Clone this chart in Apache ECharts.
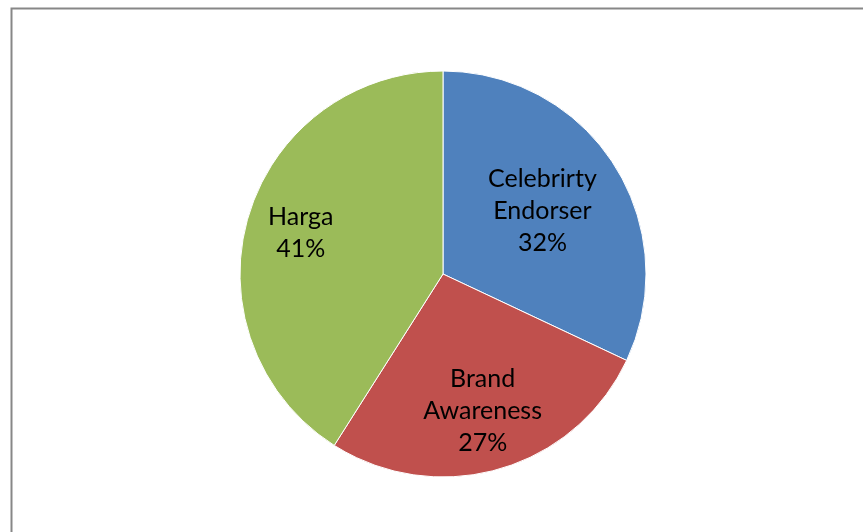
<!DOCTYPE html>
<html><head><meta charset="utf-8">
<script src="https://cdn.jsdelivr.net/npm/echarts@6/dist/echarts.min.js"></script>
<style>html,body{margin:0;padding:0;background:#fff}#c{width:863px;height:532px}</style>
</head><body><div id="c"></div>
<script>
const categories = ['Celebrirty\nEndorser', 'Brand\nAwareness', 'Harga'];
const values = [32, 27, 41];
const colors = ['#4F81BD', '#C0504D', '#9BBB59'];
const labelRadiusFrac = [0.58, 0.70, 0.73];

const CX = 443, CY = 274, R = 203;
const total = values.reduce((a, b) => a + b, 0);
const midAngles = [];
let acc = 0;
values.forEach(v => { midAngles.push((acc + v / 2) / total * 2 * Math.PI); acc += v; });

const chart = echarts.init(document.getElementById('c'));
chart.setOption({
  animation: false,
  graphic: [{
    type: 'rect', shape: { x: 11.5, y: 8.5, width: 900, height: 600 },
    style: { fill: 'none', stroke: '#878787', lineWidth: 2 }, silent: true
  }],
  series: [{
    type: 'pie',
    center: [CX, CY],
    radius: [0, R],
    startAngle: 90,
    clockwise: true,
    data: categories.map((n, i) => ({ name: n, value: values[i], itemStyle: { color: colors[i] } })),
    itemStyle: { borderColor: '#ffffff', borderWidth: 1 },
    label: {
      show: true, position: 'inside',
      formatter: p => p.name + '\n' + Math.round(p.percent) + '%',
      color: '#000', fontSize: 25, lineHeight: 32, fontFamily: 'Lato', align: 'center'
    },
    labelLayout: p => {
      const a = midAngles[p.dataIndex], f = labelRadiusFrac[p.dataIndex];
      return { x: CX + f * R * Math.sin(a), y: CY - f * R * Math.cos(a), align: 'center', verticalAlign: 'middle' };
    },
    labelLine: { show: false },
    emphasis: { disabled: true }
  }]
});
</script></body></html>
